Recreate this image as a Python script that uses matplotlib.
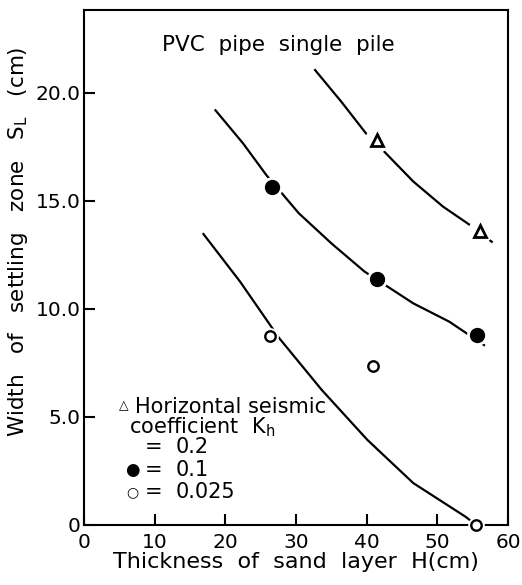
import matplotlib
matplotlib.use("Agg")
import matplotlib.pyplot as plt

# Measured points
h_02 = [41.4, 56.0]
s_02 = [17.8, 13.6]
h_01 = [26.6, 41.5, 55.6]
s_01 = [15.65, 11.4, 8.8]
h_0025 = [26.3, 40.9, 55.5]
s_0025 = [8.75, 7.35, 0.0]

# Fitted curves
curve_02_h = [32.7, 36.4, 39.9, 42.5, 46.6, 50.8, 55.0, 57.7]
curve_02_s = [21.06, 19.6, 18.13, 17.28, 15.9, 14.74, 13.8, 13.11]
curve_01_h = [18.6, 22.5, 25.8, 30.4, 35.0, 39.7, 46.6, 51.7, 56.6]
curve_01_s = [19.2, 17.67, 16.2, 14.43, 13.04, 11.73, 10.26, 9.41, 8.33]
curve_0025_h = [16.9, 22.1, 27.6, 33.65, 40.1, 46.6, 54.0, 55.5]
curve_0025_s = [13.47, 11.26, 8.66, 6.25, 3.94, 1.94, 0.38, 0.0]

xticks = [0, 10, 20, 30, 40, 50, 60]
yticks = [0, 5, 10, 15, 20]
yticklabels = ["0", "5.0", "10.0", "15.0", "20.0"]

fig = plt.figure(figsize=(5.22, 5.85), dpi=100)
L, R, B, T = 84, 508, 525, 10
ax = fig.add_axes([L/522, (585-B)/585, (R-L)/522, (B-T)/585])
ax.set_xlim(0, 60)
ax.set_ylim(0, 23.84)

lw = 1.6
ax.plot(curve_02_h, curve_02_s, color="black", lw=lw, zorder=2, solid_joinstyle="round")
ax.plot(curve_01_h, curve_01_s, color="black", lw=lw, zorder=2, solid_joinstyle="round")
ax.plot(curve_0025_h, curve_0025_s, color="black", lw=lw, zorder=2, solid_joinstyle="round")

# white halos to break lines at markers
ax.plot(h_02, s_02, linestyle="none", marker="o", markersize=17, color="white", zorder=3)
ax.plot(h_01, s_01, linestyle="none", marker="o", markersize=14, color="white", zorder=3)
ax.plot(h_0025, s_0025, linestyle="none", marker="o", markersize=11, color="white", zorder=3)

ax.plot(h_02, s_02, linestyle="none", marker="^", markersize=8.5, markerfacecolor="white",
        markeredgecolor="black", markeredgewidth=2.0, zorder=4)
ax.plot(h_01, s_01, linestyle="none", marker="o", markersize=10, color="black", zorder=4)
ax.plot(h_0025, s_0025, linestyle="none", marker="o", markersize=7.5, markerfacecolor="white",
        markeredgecolor="black", markeredgewidth=1.7, zorder=4, clip_on=False)

ax.set_xticks(xticks)
ax.set_xticklabels([str(t) for t in xticks])
ax.set_yticks(yticks)
ax.set_yticklabels(yticklabels)
ax.tick_params(direction="in", length=8, width=1.5, labelsize=14.5)
ax.tick_params(axis="x", pad=6)
ax.tick_params(axis="y", pad=2.5)
for sp in ax.spines.values():
    sp.set_linewidth(1.5)

ax.set_xlabel("Thickness  of  sand  layer  H(cm)", fontsize=16, labelpad=0)
ax.set_ylabel(r"Width   of   settling   zone   S$_\mathrm{L}$   (cm)", fontsize=15.5)
ax.yaxis.set_label_coords(-0.128, 0.55)

ax.text(11.0, 22.2, "PVC  pipe  single  pile", fontsize=15.5, va="center", ha="left")

fs = 15
ax.text(5.6, 5.5, "\u25b3", fontsize=9, va="center", ha="center")
ax.text(7.2, 5.46, "Horizontal seismic", fontsize=fs, va="center", ha="left")
ax.text(6.3, 4.54, r"coefficient  K$_\mathrm{h}$", fontsize=fs, va="center", ha="left")
ax.text(9.9, 3.61, "=", fontsize=fs, va="center", ha="center")
ax.text(12.9, 3.61, "0.2", fontsize=fs, va="center", ha="left")
ax.text(6.9, 2.55, "\u25cf", fontsize=12, va="center", ha="center")
ax.text(9.9, 2.55, "=", fontsize=fs, va="center", ha="center")
ax.text(12.9, 2.55, "0.1", fontsize=fs, va="center", ha="left")
ax.text(6.9, 1.53, "\u25cb", fontsize=10, va="center", ha="center")
ax.text(9.9, 1.53, "=", fontsize=fs, va="center", ha="center")
ax.text(12.9, 1.53, "0.025", fontsize=fs, va="center", ha="left")

fig.savefig("out.png", dpi=100)
